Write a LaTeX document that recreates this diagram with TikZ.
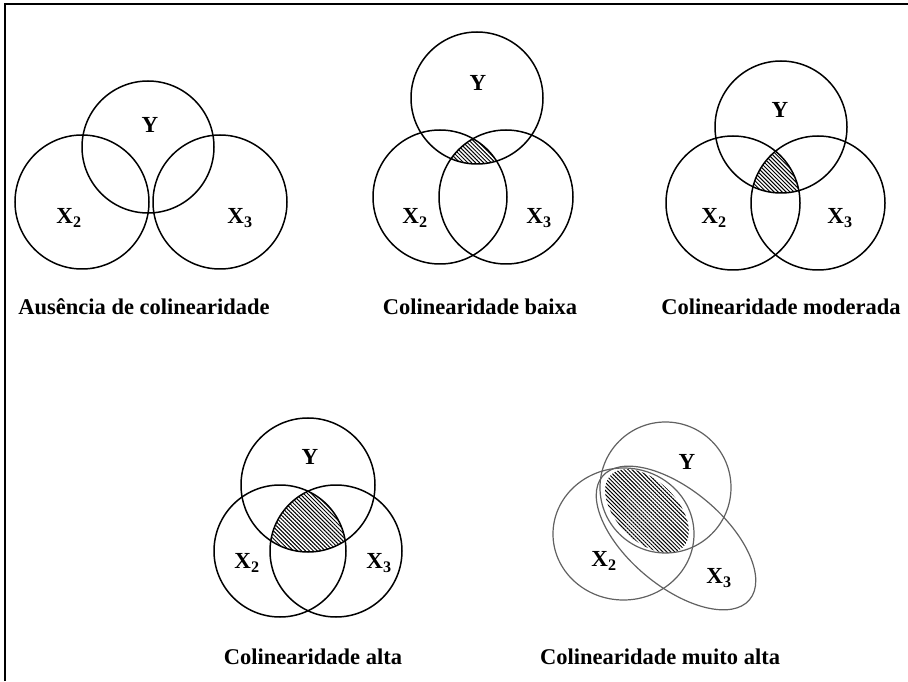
\documentclass[tikz,border=0pt]{standalone}
\usepackage{fontspec}
\setmainfont{Liberation Serif}
\usetikzlibrary{patterns.meta}
\tikzset{
  venn/.style={draw=black, line width=1.5pt},
  vennsoft/.style={draw=black!62, line width=1.2pt},
  hatch/.style={pattern={Lines[angle=-45,distance=2.8pt,line width=1pt]}},
  lab/.style={font=\fontsize{23}{27}\selectfont\bfseries, inner sep=0pt},
  capt/.style={font=\fontsize{22.5}{27}\selectfont\bfseries, inner sep=0pt},
}
\newcommand{\Xsub}[1]{X\textsubscript{#1}}
\begin{document}
\begin{tikzpicture}[x=1pt,y=1pt]
\useasboundingbox (0,0) rectangle (908,681);
% frame
\draw[line width=2pt] (5,0) -- (5,677) -- (908,677);

% ---------- Diagram 1: Ausencia ----------
\draw[venn] (148,534) circle[radius=66pt];
\draw[venn] (82,479) circle[radius=67pt];
\draw[venn] (220,479) circle[radius=67pt];
\node[lab] (y1) at (150,556) {Y};
\node[lab] (xa1) at (69,463) {\Xsub{2}};
\node[lab] (xb1) at (240,463) {\Xsub{3}};
\node[capt] (c1) at (144,374) {Ausência de colinearidade};

% ---------- Diagram 2: baixa ----------
\begin{scope}
  \clip (477,583) circle[radius=66pt];
  \clip (440,484) circle[radius=67pt];
  \fill[hatch] (506,484) circle[radius=67pt];
\end{scope}
\draw[venn] (477,583) circle[radius=66pt];
\draw[venn] (440,484) circle[radius=67pt];
\draw[venn] (506,484) circle[radius=67pt];
\node[lab] (y2) at (478,598) {Y};
\node[lab] (xa2) at (415,463) {\Xsub{2}};
\node[lab] (xb2) at (539,463) {\Xsub{3}};
\node[capt] (c2) at (480,374) {Colinearidade baixa};

% ---------- Diagram 3: moderada ----------
\begin{scope}
  \clip (781,554) circle[radius=66pt];
  \clip (733,478) circle[radius=67pt];
  \fill[hatch] (818,478) circle[radius=67pt];
\end{scope}
\draw[venn] (781,554) circle[radius=66pt];
\draw[venn] (733,478) circle[radius=67pt];
\draw[venn] (818,478) circle[radius=67pt];
\node[lab] (y3) at (780,571) {Y};
\node[lab] (xa3) at (714,463) {\Xsub{2}};
\node[lab] (xb3) at (840,463) {\Xsub{3}};
\node[capt] (c3) at (781,374) {Colinearidade moderada};

% ---------- Diagram 4: alta ----------
\begin{scope}
  \clip (308,196) circle[radius=67pt];
  \clip (280,130) circle[radius=66pt];
  \fill[hatch] (336,130) circle[radius=66pt];
\end{scope}
\draw[venn] (308,196) circle[radius=67pt];
\draw[venn] (280,130) circle[radius=66pt];
\draw[venn] (336,130) circle[radius=66pt];
\node[lab] (y4) at (310,224) {Y};
\node[lab] (xa4) at (247,118) {\Xsub{2}};
\node[lab] (xb4) at (379,118) {\Xsub{3}};
\node[capt] (c4) at (313,24) {Colinearidade alta};

% ---------- Diagram 5: muito alta ----------
\begin{scope}
  \clip[rotate around={-45:(647,170)}] (647,170) ellipse[x radius=51pt, y radius=30pt];
  \fill[hatch] (580,120) rectangle (720,230);
\end{scope}
\draw[vennsoft] (665.5,193.5) circle[radius=65.5pt];
\draw[vennsoft] (623.5,147) ellipse[x radius=70.5pt, y radius=66pt];
\draw[vennsoft, rotate around={-40:(676,143)}] (676,143) ellipse[x radius=96pt, y radius=48pt];
\node[lab] (y5) at (687,219) {Y};
\node[lab] (xa5) at (604,120) {\Xsub{2}};
\node[lab] (xb5) at (719,103) {\Xsub{3}};
\node[capt] (c5) at (660,24) {Colinearidade muito alta};
\end{tikzpicture}
\end{document}
